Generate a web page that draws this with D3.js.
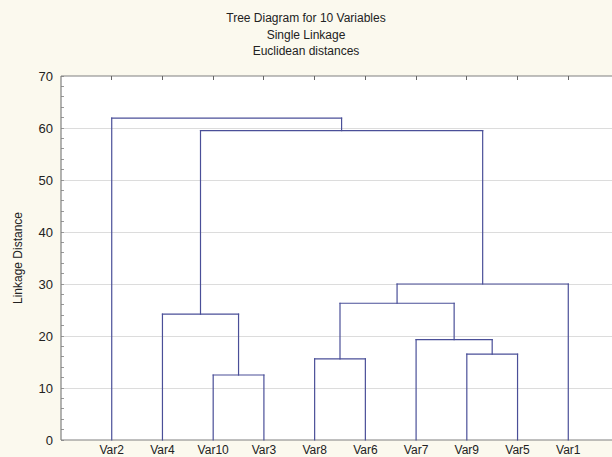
<!DOCTYPE html>
<html><head><meta charset="utf-8">
<script src="https://cdn.jsdelivr.net/npm/d3@7"></script>
<style>body{margin:0;background:#fbf9ee;} svg{display:block;} text{font-family:"Liberation Sans",Arial,sans-serif;fill:#222;}</style>
</head><body><svg id="c" width="612" height="457"></svg>
<script>
const titleLines = ["Tree Diagram for 10 Variables", "Single Linkage", "Euclidean distances"];
const yLabel = "Linkage Distance";
const leaves = ["Var2","Var4","Var10","Var3","Var8","Var6","Var7","Var9","Var5","Var1"];
// merges: cluster ids C1..C9 in order
const mergeLeft   = ["Var10","Var8","Var9","Var7","Var4","C2","C6","C5","Var2"];
const mergeRight  = ["Var3","Var6","Var5","C3","C1","C4","Var1","C7","C8"];
const mergeHeight = [12.5, 15.6, 16.5, 19.3, 24.2, 26.3, 30.0, 59.5, 61.9];
const yTicks = [0,10,20,30,40,50,60,70];

const svg = d3.select("#c");
const W = 612, H = 457;
svg.append("rect").attr("width",W).attr("height",H).attr("fill","#fbf9ee");

const x = d3.scaleLinear().domain([0, leaves.length + 1]).range([61, 619]);
const y = d3.scaleLinear().domain([0, 70]).range([440, 76]);

// plot area
svg.append("rect").attr("x", x(0)).attr("y", y(70)).attr("width", x(11)-x(0)).attr("height", y(0)-y(70)).attr("fill","#ffffff");

// gridlines
svg.append("g").selectAll("line").data(yTicks.filter(d => d > 0 && d < 70)).join("line")
  .attr("x1", x(0)).attr("x2", x(11)).attr("y1", d => y(d)).attr("y2", d => y(d))
  .attr("stroke","#dcdcdc").attr("stroke-width",1).attr("shape-rendering","crispEdges");

// left axis
const yAxis = d3.axisLeft(y).tickValues(yTicks).tickSize(0).tickPadding(8);
const ga = svg.append("g").attr("transform", `translate(${x(0)},0)`).call(yAxis);
ga.select(".domain").remove();
ga.selectAll("text").style("font-size","13px").attr("fill","#222");
// minor ticks inward
svg.append("g").selectAll("line").data(d3.range(0, 71, 2)).join("line")
  .attr("x1", x(0)).attr("x2", x(0)+3).attr("y1", d => y(d)).attr("y2", d => y(d))
  .attr("stroke","#999").attr("shape-rendering","crispEdges");

// frame
svg.append("line").attr("x1",x(0)).attr("x2",x(0)).attr("y1",y(70)).attr("y2",y(0)).attr("stroke","#808080").attr("stroke-width",1.2);
svg.append("line").attr("x1",x(0)).attr("x2",x(11)).attr("y1",y(70)).attr("y2",y(70)).attr("stroke","#808080").attr("stroke-width",1.2);
svg.append("line").attr("x1",x(0)).attr("x2",x(11)).attr("y1",y(0)).attr("y2",y(0)).attr("stroke","#808080").attr("stroke-width",1.2);

// top ticks at leaves
svg.append("g").selectAll("line").data(leaves).join("line")
  .attr("x1",(d,i)=>x(i+1)).attr("x2",(d,i)=>x(i+1)).attr("y1",y(70)).attr("y2",y(70)+4)
  .attr("stroke","#666").attr("shape-rendering","crispEdges");

// bottom labels
svg.append("g").selectAll("text").data(leaves).join("text")
  .attr("x",(d,i)=>x(i+1)).attr("y",454).attr("text-anchor","middle")
  .style("font-size","12px").text(d => d);

// dendrogram
const pos = {}, ht = {};
leaves.forEach((l,i) => { pos[l] = i+1; ht[l] = 0; });
const segs = [];
mergeLeft.forEach((a, k) => {
  const b = mergeRight[k], h = mergeHeight[k], id = "C" + (k+1);
  segs.push([pos[a], ht[a], pos[a], h]);
  segs.push([pos[b], ht[b], pos[b], h]);
  segs.push([pos[a], h, pos[b], h]);
  pos[id] = (pos[a] + pos[b]) / 2; ht[id] = h;
});
svg.append("g").selectAll("line").data(segs).join("line")
  .attr("x1", d => x(d[0])).attr("y1", d => y(d[1])).attr("x2", d => x(d[2])).attr("y2", d => y(d[3]))
  .attr("stroke","#4a4f98").attr("stroke-width",1.2).attr("stroke-linecap","square");

// titles
svg.append("g").selectAll("text").data(titleLines).join("text")
  .attr("x", 306).attr("y",(d,i)=>22 + i*16.5).attr("text-anchor","middle")
  .style("font-size","12px").text(d => d);

svg.append("text").attr("transform","translate(22,258) rotate(-90)").attr("text-anchor","middle")
  .style("font-size","12px").text(yLabel);
</script></body></html>
